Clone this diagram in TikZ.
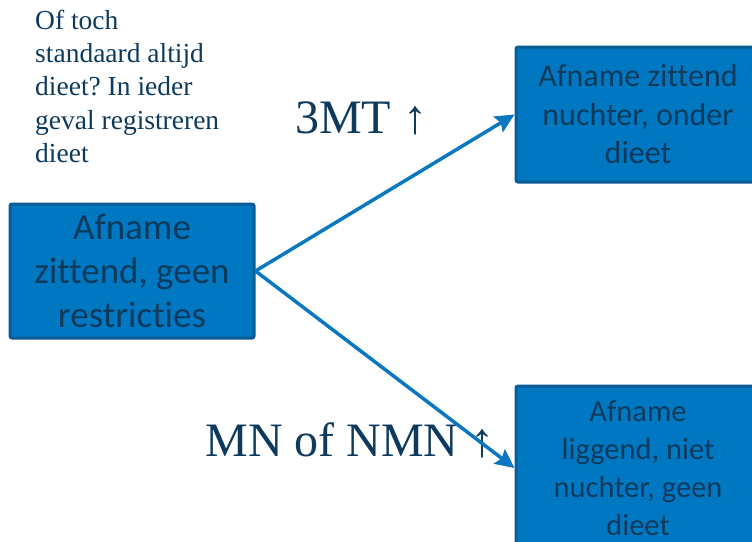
\documentclass[tikz,border=0pt]{standalone}
\usepackage{fontspec}
\setmainfont{Liberation Serif}
\newfontfamily\boxfont[Ligatures={NoCommon,NoDiscretionary,NoContextual}]{Carlito}
\usetikzlibrary{arrows.meta}
\definecolor{boxfill}{HTML}{0078C1}
\definecolor{boxline}{HTML}{0B5C94}
\definecolor{navy}{HTML}{0E3A5E}
\definecolor{arrowblue}{HTML}{0A78C0}
\frenchspacing
\tikzset{
  stagebox/.style={draw=boxline, line width=3pt, fill=boxfill, rounded corners=2pt,
    text=navy, align=center, inner sep=0pt, minimum width=244pt},
  flow/.style={draw=arrowblue, line width=3.5pt,
    -{Stealth[length=19pt,width=18pt,inset=3pt]}},
  label/.style={text=navy, inner sep=0pt, font=\fontsize{48}{52}\selectfont}
}
\begin{document}
\begin{tikzpicture}[x=1pt,y=-1pt]
\useasboundingbox (0,0) rectangle (752,541);
\clip (0,0) rectangle (752,541);
\node[stagebox, minimum height=134pt, font=\boxfont\fontsize{37}{44}\selectfont]
  (L) at (132,271) {Afname\\zittend, geen\\restricties};
\node[stagebox, minimum height=135pt, font=\boxfont\fontsize{32}{38.5}\selectfont]
  (TR) at (638,114.5) {Afname zittend\\nuchter, onder\\dieet};
\node[stagebox, minimum height=164pt, font=\boxfont\fontsize{30.5}{38}\selectfont]
  (BR) at (638,468) {Afname\\liggend, niet\\nuchter, geen\\dieet};
\node[anchor=north west, align=left, text=navy, inner sep=0pt,
  font=\fontsize{27.5}{33.2}\selectfont] (Q) at (35,10)
  {Of toch\\standaard altijd\\dieet? In ieder\\geval registreren\\dieet};
\node[label] (T1) at (361,118) {3MT ↑};
\node[label] (T2) at (350,440) {MN of NMN ↑};
\draw[flow] (L.east) -- (TR.west);
\draw[flow] (L.east) -- (BR.west);
\end{tikzpicture}
\end{document}
